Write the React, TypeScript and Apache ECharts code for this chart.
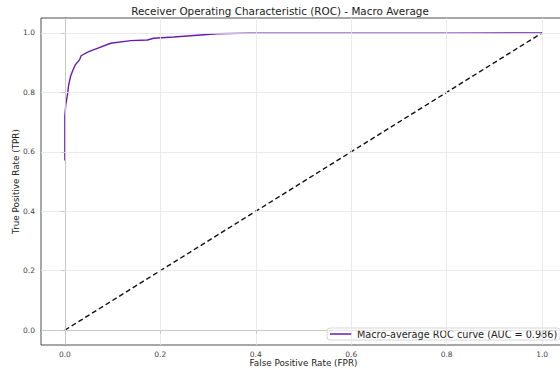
import React, { useEffect, useRef } from "react";
import * as echarts from "echarts";

const fpr = [0, 0, 0.002, 0.005, 0.008, 0.012, 0.017, 0.022, 0.031, 0.034, 0.05, 0.068, 0.096, 0.138, 0.173, 0.186, 0.228, 0.32, 0.39, 0.81, 0.81, 1.0];
const tpr = [0.571, 0.72, 0.76, 0.787, 0.825, 0.854, 0.875, 0.893, 0.91, 0.923, 0.937, 0.948, 0.965, 0.974, 0.976, 0.982, 0.986, 0.997, 0.999, 0.999, 1.0, 1.0];
const diagX = [0, 1];
const diagY = [0, 1];
const tickValues = [0, 0.2, 0.4, 0.6, 0.8, 1.0];
const title = "Receiver Operating Characteristic (ROC) - Macro Average";
const seriesName = "Macro-average ROC curve (AUC = 0.986)";
const xName = "False Positive Rate (FPR)";
const yName = "True Positive Rate (TPR)";

export default function App() {
  const ref = useRef<HTMLDivElement>(null);
  useEffect(() => {
    if (!ref.current) return;
    const chart = echarts.init(ref.current, null, { renderer: "svg" });
    const font = "DejaVu Sans";
    const gridLine = { color: "#e6e6e6", width: 0.8, type: "solid" as const };
    const axisCommon = {
      type: "value" as const,
      min: -0.05,
      max: 1.05,
      nameLocation: "middle" as const,
      nameMoveOverlap: false,
      nameTextStyle: { fontFamily: font, fontSize: 8.8, color: "#222" },
      axisLine: { show: true, lineStyle: { color: "#222", width: 0.8 } },
      axisTick: { show: true, inside: false, length: 3.5, lineStyle: { color: "#222", width: 0.8 }, customValues: tickValues },
      axisLabel: {
        fontFamily: font,
        fontSize: 7.5,
        color: "#444",
        customValues: tickValues,
        formatter: (v: number) => v.toFixed(1),
      },
      splitLine: { show: false },
    };
    chart.setOption({
      animation: false,
      backgroundColor: "#fff",
      title: {
        text: title,
        left: "center",
        top: 1,
        textStyle: { fontFamily: font, fontSize: 10.4, fontWeight: "normal", color: "#222" },
      },
      grid: {
        left: 41,
        top: 18,
        width: 525,
        height: 327,
        show: true,
        borderColor: "#222",
        borderWidth: 0.8,
        containLabel: false,
        outerBoundsMode: "none",
      },
      legend: {
        data: [{ name: seriesName, icon: "rect" }],
        left: 327,
        top: 328,
        itemWidth: 22,
        itemHeight: 1.5,
        itemGap: 6,
        padding: [1, 3, 1, 3],
        borderColor: "#cccccc",
        borderWidth: 0.8,
        borderRadius: 3,
        backgroundColor: "rgba(255,255,255,0.85)",
        textStyle: { fontFamily: font, fontSize: 9.7, color: "#222" },
      },
      xAxis: { ...axisCommon, name: xName, nameGap: 13, axisLabel: { ...axisCommon.axisLabel, margin: 5 } },
      yAxis: { ...axisCommon, name: yName, nameGap: 21, axisLabel: { ...axisCommon.axisLabel, margin: 6 } },
      series: [
        {
          type: "line",
          name: "grid",
          data: [],
          z: 0,
          silent: true,
          markLine: {
            silent: true,
            symbol: "none",
            label: { show: false },
            lineStyle: gridLine,
            data: [
              ...tickValues.map((v) => ({ xAxis: v })),
              ...tickValues.map((v) => ({ yAxis: v })),
            ],
          },
        },
        {
          type: "line",
          name: "diag",
          data: diagX.map((x, i) => [x, diagY[i]]),
          symbol: "none",
          lineStyle: { color: "#111", width: 1.4, type: [5, 3] },
          z: 2,
        },
        {
          type: "line",
          name: seriesName,
          data: fpr.map((x, i) => [x, tpr[i]]),
          symbol: "none",
          color: "#6a1cb0",
          lineStyle: { color: "#6a1cb0", width: 1.4 },
          z: 3,
        },
      ],
    });
    return () => chart.dispose();
  }, []);
  return <div ref={ref} style={{ position: "fixed", left: 0, top: 0, width: 560, height: 370 }} />;
}
